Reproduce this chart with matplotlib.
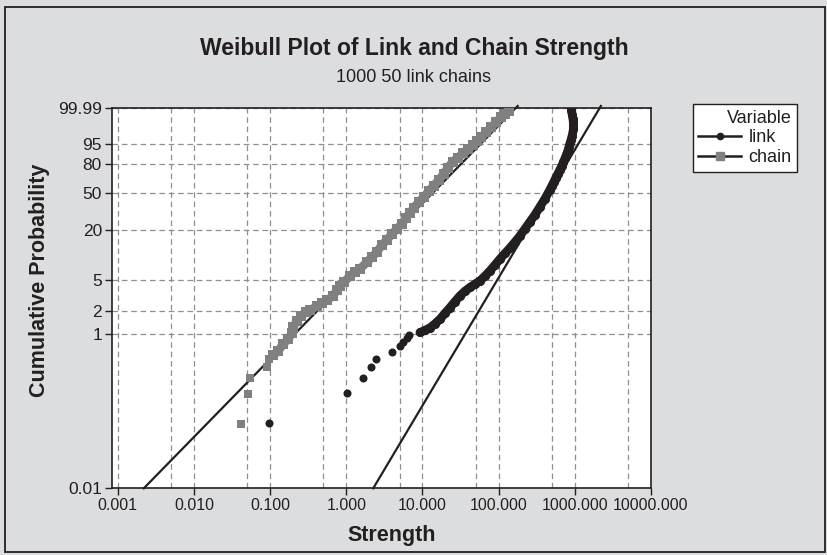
import numpy as np
import matplotlib.pyplot as plt
from matplotlib.lines import Line2D
from matplotlib.patches import Rectangle
from matplotlib.ticker import FixedLocator, FuncFormatter, NullFormatter

plt.rcParams['font.family'] = ['Liberation Sans', 'DejaVu Sans']

# chain strength (min of 50 links) and cumulative probability in %
chain_strength = [0.0415, 0.0513, 0.0544, 0.0912, 0.0968, 0.109, 0.127, 0.148, 0.172, 0.194,
                  0.200, 0.225, 0.255, 0.296, 0.334, 0.413, 0.480, 0.558, 0.670, 0.755,
                  0.828, 0.933, 1.12, 1.30, 1.51, 1.87, 2.18, 2.53, 2.94, 3.43,
                  3.98, 4.63, 5.38, 6.08, 6.86, 7.74, 9.02, 10.5, 12.2, 14.2,
                  16.5, 19.2, 21.6, 25.2, 29.2, 34.0, 39.6, 46.0, 52.0, 58.6,
                  68.2, 79.3, 92.3, 107, 121, 137]
chain_prob = [0.069, 0.17, 0.27, 0.38, 0.47, 0.53, 0.60, 0.74, 0.86, 1.03,
              1.23, 1.47, 1.70, 1.92, 2.03, 2.29, 2.50, 2.73, 3.08, 3.68,
              4.14, 4.65, 5.54, 6.23, 6.79, 8.31, 9.59, 11.07, 13.47, 15.47,
              18.23, 20.86, 23.80, 27.79, 31.50, 35.56, 40.92, 45.74, 51.9, 57.3,
              63.9, 70.5, 76.8, 82.6, 86.1, 89.2, 91.9, 94.1, 95.9, 97.26,
              98.47, 99.22, 99.65, 99.86, 99.924, 99.961]

# single link strength and cumulative probability in %
link_strength = [0.0977, 1.03, 1.67, 2.11, 2.43, 3.95, 5.07, 5.61, 6.21, 6.71,
                 9.29, 10.8, 12.6, 14.6, 17.0, 19.8, 23.0, 26.7, 31.1, 36.2,
                 42.1, 49.0, 57.0, 66.2, 77.1, 89.5, 104, 121, 141, 164,
                 191, 222, 258, 300, 349, 406, 472, 501, 533, 566,
                 601, 638, 679, 710, 743, 813, 838, 863, 891, 918,
                 960, 960, 960, 946, 930, 900]
link_prob = [0.0705, 0.173, 0.27, 0.37, 0.47, 0.58, 0.70, 0.78, 0.90, 0.965,
             1.05, 1.12, 1.21, 1.36, 1.56, 1.86, 2.20, 2.62, 3.11, 3.57,
             3.98, 4.39, 4.83, 5.54, 6.47, 7.63, 9.06, 10.6, 12.4, 14.6,
             17.3, 20.9, 25.1, 30.0, 36.4, 43.8, 53.0, 57.3, 61.7, 66.1,
             70.5, 74.7, 78.8, 82.2, 85.3, 91.2, 93.3, 95.04, 96.45, 97.54,
             98.97, 99.38, 99.65, 99.81, 99.906, 99.969]

# the weakest few of each sample sit apart; the rest crowd into a solid band
CHAIN_LOOSE = 5
LINK_LOOSE = 10

# fitted Weibull lines, given by their end points
fit_prob = [0.01, 99.99]
chain_fit_strength = [0.0022, 178]
link_fit_strength = [2.26, 2200]

y_ticks = [0.01, 1, 2, 5, 20, 50, 80, 95, 99.985]
y_tick_labels = ['0.01', '1', '2', '5', '20', '50', '80', '95', '99.99']
x_ticks = [0.001, 0.01, 0.1, 1, 10, 100, 1000, 10000]
x_minor = [0.005, 0.05, 0.5, 5, 50, 500, 5000]

BG = '#dcdddf'
INK = '#231f20'
GREY = '#808080'


def weibull(p):
    p = np.clip(np.asarray(p, dtype=float) / 100.0, 1e-9, 1 - 1e-9)
    return np.log(-np.log(1.0 - p))


def weibull_inv(w):
    return 100.0 * (1.0 - np.exp(-np.exp(np.asarray(w, dtype=float))))


fig = plt.figure(figsize=(8.28, 5.55), dpi=100, facecolor=BG)
ax = fig.add_axes([0.1349, 0.1202, 0.6513, 0.6861])
ax.set_facecolor('white')

ax.set_xscale('log')
ax.set_yscale('function', functions=(weibull, weibull_inv))
ax.set_xlim(10 ** -3.079, 10000)
ax.set_ylim(0.01, 99.985)

ax.xaxis.set_major_locator(FixedLocator(x_ticks))
ax.xaxis.set_minor_locator(FixedLocator(x_minor))
ax.xaxis.set_major_formatter(FuncFormatter(lambda v, pos: f'{v:.3f}'))
ax.xaxis.set_minor_formatter(NullFormatter())
ax.yaxis.set_major_locator(FixedLocator(y_ticks))
ax.yaxis.set_minor_locator(FixedLocator([]))
ax.set_yticklabels(y_tick_labels)

grid_kw = dict(color='#8f8f8f', linestyle=(0, (4.5, 3)), linewidth=0.9)
ax.xaxis.grid(True, which='both', **grid_kw)
ax.yaxis.grid(True, which='major', **grid_kw)
ax.set_axisbelow(True)

ax.tick_params(axis='both', which='major', direction='out', length=5, width=1,
               color=INK, labelcolor=INK, pad=2)
ax.tick_params(axis='x', which='major', labelsize=11.5)
ax.tick_params(axis='y', which='major', labelsize=12.5)
ax.tick_params(axis='x', which='minor', length=0)
for sp in ax.spines.values():
    sp.set_color(INK)
    sp.set_linewidth(1.2)

# fit lines run to 0.01 % and 99.99 %, a touch past the top of the frame
ax.plot(chain_fit_strength, fit_prob, color=INK, lw=1.6, zorder=3, clip_on=False)
ax.plot(link_fit_strength, fit_prob, color=INK, lw=1.6, zorder=3, clip_on=False)

# chain: loose squares, then the crowded band
ax.plot(chain_strength[:CHAIN_LOOSE], chain_prob[:CHAIN_LOOSE], linestyle='none',
        marker='s', markersize=5.5, color=GREY, markeredgewidth=0, zorder=4)
ax.plot(chain_strength[CHAIN_LOOSE:], chain_prob[CHAIN_LOOSE:], linestyle='-', lw=6.2,
        solid_capstyle='butt', marker='s', markersize=7.3, color=GREY,
        markeredgewidth=0, zorder=4)

# link: loose dots, then the crowded band
ax.plot(link_strength[:LINK_LOOSE], link_prob[:LINK_LOOSE], linestyle='none',
        marker='o', markersize=5.8, color=INK, markeredgewidth=0, zorder=5)
ax.plot(link_strength[LINK_LOOSE:], link_prob[LINK_LOOSE:], linestyle='-', lw=6.3,
        solid_capstyle='round', solid_joinstyle='round', marker='o', markersize=6.6,
        color=INK, markeredgewidth=0, zorder=5)

fig.text(0.5, 1 - 49 / 555, 'Weibull Plot of Link and Chain Strength', ha='center', va='center',
         fontsize=16.5, fontweight='bold', color=INK)
fig.text(0.5, 1 - 77 / 555, '1000 50 link chains', ha='center', va='center',
         fontsize=13, color=INK)
fig.text(392 / 828, 1 - 535 / 555, 'Strength', ha='center', va='center',
         fontsize=15.5, fontweight='bold', color=INK)
fig.text(40 / 828, 1 - 280 / 555, 'Cumulative Probability', ha='center', va='center',
         rotation=90, fontsize=15.5, fontweight='bold', color=INK)

handles = [
    Line2D([], [], color=INK, lw=1.8, marker='o', markersize=5.5, markeredgewidth=0),
    Line2D([], [], color=INK, lw=1.8, marker='s', markersize=6,
           markerfacecolor=GREY, markeredgecolor=GREY),
]
leg = fig.legend(handles, ['link', 'chain'], title='Variable', loc='upper left',
                 bbox_to_anchor=(692.7 / 828, 1 - 104.3 / 555), fontsize=13,
                 title_fontsize=13, frameon=True, fancybox=False, framealpha=1,
                 edgecolor=INK, borderpad=0.3, handlelength=2.4, handletextpad=0.4,
                 labelspacing=0.15, borderaxespad=0, alignment='right')
leg.get_frame().set_linewidth(1.0)
for t in leg.get_texts():
    t.set_color(INK)
leg.get_title().set_color(INK)

fig.patches.append(Rectangle((5 / 828, 3 / 555), 820 / 828, 545 / 555, transform=fig.transFigure,
                             fill=False, edgecolor=INK, linewidth=1.3))

fig.savefig('out.png', dpi=100, facecolor=BG)
